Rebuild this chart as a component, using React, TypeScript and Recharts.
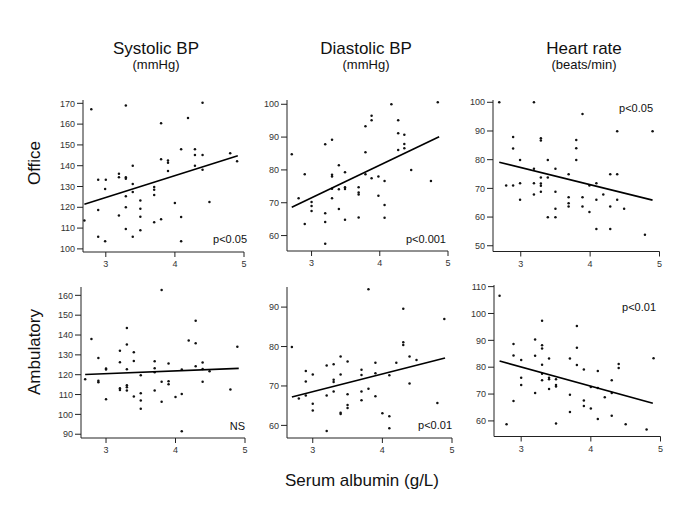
import React from 'react';
import { ScatterChart, Scatter, XAxis, YAxis } from 'recharts';

// ============================================================================
// Data (serum albumin g/L, measured value)
// ============================================================================

const xTicks = [3, 4, 5];

const officeSystolic: [number, number][] = [
  [2.79, 167.1], [3.29, 169.0], [4.4, 170.3], [4.19, 163.0], [3.8, 160.4],
  [2.69, 113.6], [2.89, 133.2], [3.0, 133.2], [2.99, 128.8], [2.89, 118.7],
  [2.89, 105.8], [2.99, 103.7], [3.19, 136.1], [3.19, 134.4], [3.29, 134.5],
  [3.29, 133.7], [3.39, 140.0], [3.39, 131.2], [3.39, 127.3], [3.29, 125.3],
  [3.29, 120.0], [3.19, 116.1], [3.29, 109.6], [3.39, 105.8], [3.5, 123.3],
  [3.5, 119.3], [3.5, 115.5], [3.5, 108.9], [3.7, 129.7], [3.7, 128.4],
  [3.7, 125.9], [3.7, 112.8], [3.8, 143.1], [3.8, 114.3], [3.9, 142.5],
  [3.9, 141.4], [3.9, 137.4], [4.0, 122.1], [4.09, 147.9], [4.09, 115.3],
  [4.09, 103.7], [4.29, 147.9], [4.29, 145.2], [4.29, 140.0], [4.4, 145.2],
  [4.4, 138.0], [4.5, 122.5], [4.8, 146.0], [4.9, 142.2]
];

const officeDiastolic: [number, number][] = [
  [2.71, 84.8], [2.81, 71.4], [2.9, 78.7], [2.9, 63.5], [3.0, 70.2],
  [3.0, 69.0], [3.0, 67.5], [3.2, 87.8], [3.3, 89.2], [3.2, 66.8],
  [3.2, 64.1], [3.2, 57.5], [3.3, 78.5], [3.3, 78.0], [3.3, 74.3],
  [3.3, 71.4], [3.4, 81.4], [3.4, 74.1], [3.4, 68.1], [3.49, 79.3],
  [3.49, 74.7], [3.49, 74.2], [3.49, 64.8], [3.69, 74.7], [3.69, 73.1],
  [3.69, 72.5], [3.69, 65.5], [3.79, 93.3], [3.79, 85.4], [3.79, 78.7],
  [3.88, 96.5], [3.88, 95.1], [3.88, 77.5], [3.98, 78.0], [3.98, 72.1],
  [4.07, 76.6], [4.07, 69.3], [4.07, 65.4], [4.17, 100.0], [4.27, 95.1],
  [4.27, 91.2], [4.27, 86.1], [4.36, 90.7], [4.36, 87.9], [4.36, 86.6],
  [4.46, 80.0], [4.75, 76.6], [4.85, 100.6]
];

const officeHeartRate: [number, number][] = [
  [2.69, 100.0], [2.79, 71.0], [2.89, 87.9], [2.89, 83.9], [2.89, 71.0],
  [2.99, 79.9], [2.99, 71.8], [2.99, 66.0], [3.19, 100.0], [3.19, 76.8],
  [3.19, 71.8], [3.19, 67.9], [3.29, 87.5], [3.29, 86.7], [3.29, 73.8],
  [3.29, 71.7], [3.29, 70.9], [3.29, 68.8], [3.39, 79.9], [3.39, 73.8],
  [3.39, 59.9], [3.5, 76.8], [3.5, 68.8], [3.5, 62.9], [3.5, 59.9],
  [3.69, 74.9], [3.69, 66.9], [3.69, 64.8], [3.69, 63.7], [3.8, 86.9],
  [3.8, 84.0], [3.8, 79.9], [3.89, 95.9], [3.89, 66.9], [3.89, 63.7],
  [3.99, 71.0], [3.99, 61.8], [4.09, 71.8], [4.09, 66.0], [4.09, 55.8],
  [4.19, 67.9], [4.29, 74.9], [4.29, 63.7], [4.29, 55.8], [4.39, 89.9],
  [4.39, 74.9], [4.39, 66.0], [4.49, 62.9], [4.79, 53.8], [4.9, 89.9]
];

const ambSystolic: [number, number][] = [
  [2.7, 117.7], [2.79, 138.0], [2.89, 128.4], [2.89, 117.0], [2.89, 116.2],
  [3.0, 123.1], [3.0, 122.6], [3.0, 107.6], [3.2, 132.1], [3.2, 126.3],
  [3.2, 113.2], [3.2, 112.3], [3.3, 143.5], [3.3, 135.2], [3.3, 122.7],
  [3.3, 114.7], [3.3, 113.7], [3.3, 112.0], [3.4, 131.3], [3.4, 126.9],
  [3.4, 109.0], [3.5, 119.7], [3.5, 110.6], [3.5, 107.0], [3.5, 102.8],
  [3.7, 126.8], [3.7, 123.2], [3.7, 121.2], [3.7, 112.0], [3.8, 162.7],
  [3.8, 116.4], [3.8, 106.4], [3.9, 125.6], [3.9, 116.7], [3.9, 115.2],
  [4.0, 108.8], [4.09, 122.6], [4.09, 110.3], [4.09, 91.5], [4.19, 137.2],
  [4.29, 147.2], [4.29, 135.8], [4.29, 124.2], [4.39, 126.1], [4.39, 122.9],
  [4.39, 116.5], [4.49, 121.7], [4.79, 112.5], [4.89, 134.1]
];

const ambDiastolic: [number, number][] = [
  [2.7, 79.9], [2.8, 66.8], [2.9, 73.8], [2.9, 71.1], [2.9, 67.6],
  [3.0, 72.9], [3.0, 65.5], [3.0, 63.8], [3.2, 75.2], [3.2, 67.6],
  [3.2, 58.6], [3.3, 75.5], [3.3, 71.6], [3.3, 71.0], [3.3, 68.6],
  [3.4, 77.5], [3.4, 72.9], [3.4, 63.2], [3.4, 62.9], [3.5, 76.2],
  [3.5, 67.9], [3.5, 65.2], [3.5, 64.4], [3.7, 74.1], [3.7, 72.8],
  [3.7, 68.6], [3.7, 66.4], [3.8, 94.5], [3.8, 69.3], [3.9, 75.9],
  [3.9, 73.2], [3.9, 67.4], [4.0, 63.1], [4.1, 72.7], [4.1, 62.3],
  [4.1, 59.3], [4.2, 75.9], [4.3, 89.6], [4.3, 81.1], [4.3, 80.4],
  [4.39, 77.5], [4.39, 70.6], [4.49, 76.6], [4.79, 65.7], [4.89, 87.0]
];

const ambHeartRate: [number, number][] = [
  [2.69, 106.6], [2.79, 58.8], [2.89, 88.6], [2.89, 84.4], [2.89, 67.4],
  [3.0, 82.7], [3.0, 76.1], [3.0, 73.4], [3.2, 90.3], [3.2, 84.3],
  [3.2, 70.4], [3.3, 97.3], [3.3, 88.2], [3.3, 87.0], [3.3, 80.9],
  [3.3, 77.6], [3.3, 75.1], [3.4, 83.2], [3.4, 76.1], [3.4, 75.5],
  [3.4, 71.9], [3.5, 75.5], [3.5, 73.4], [3.5, 72.8], [3.5, 59.0],
  [3.7, 83.2], [3.7, 69.7], [3.7, 63.3], [3.8, 95.3], [3.8, 87.2],
  [3.8, 80.8], [3.9, 79.1], [3.9, 67.6], [3.9, 65.6], [4.0, 72.6],
  [4.0, 64.6], [4.1, 78.6], [4.1, 72.3], [4.1, 60.7], [4.2, 68.8],
  [4.3, 75.1], [4.3, 70.4], [4.3, 61.9], [4.4, 81.2], [4.4, 79.7],
  [4.5, 58.8], [4.8, 56.8], [4.9, 83.3]
];

// regression lines (end points)
const officeSystolicFit: [number, number][] = [[2.69, 121.5], [4.91, 144.8]];
const officeDiastolicFit: [number, number][] = [[2.71, 68.6], [4.87, 90.1]];
const officeHeartRateFit: [number, number][] = [[2.69, 79.1], [4.9, 65.9]];
const ambSystolicFit: [number, number][] = [[2.7, 120.1], [4.91, 123.2]];
const ambDiastolicFit: [number, number][] = [[2.7, 67.2], [4.9, 77.1]];
const ambHeartRateFit: [number, number][] = [[2.69, 82.3], [4.89, 66.6]];

const officeSystolicTicks = [100, 110, 120, 130, 140, 150, 160, 170];
const officeDiastolicTicks = [60, 70, 80, 90, 100];
const officeHeartRateTicks = [50, 60, 70, 80, 90, 100];
const ambSystolicTicks = [90, 100, 110, 120, 130, 140, 150, 160];
const ambDiastolicTicks = [60, 70, 80, 90];
const ambHeartRateTicks = [60, 70, 80, 90, 100, 110];

const columnTitles = ['Systolic BP', 'Diastolic BP', 'Heart rate'];
const columnUnits = ['(mmHg)', '(mmHg)', '(beats/min)'];
const rowTitles = ['Office', 'Ambulatory'];
const notes = ['p<0.05', 'p<0.001', 'p<0.05', 'NS', 'p<0.01', 'p<0.01'];
const xTitle = 'Serum albumin (g/L)';

// ============================================================================
// Layout
// ============================================================================

const FONT = '"Liberation Sans", Arial, Helvetica, sans-serif';

const panels = [
  { pts: officeSystolic, fit: officeSystolicFit, ticks: officeSystolicTicks, l: 83, t: 100, r: 244, b: 252, xd: [2.67, 5], yd: [98.5, 171.6], nx: 247, ny: 243 },
  { pts: officeDiastolic, fit: officeDiastolicFit, ticks: officeDiastolicTicks, l: 287, t: 100, r: 448, b: 251, xd: [2.64, 5], yd: [55.3, 101.3], nx: 446, ny: 243 },
  { pts: officeHeartRate, fit: officeHeartRateFit, ticks: officeHeartRateTicks, l: 493, t: 100, r: 659.5, b: 251.5, xd: [2.6, 5], yd: [48, 100.8], nx: 653, ny: 112 },
  { pts: ambSystolic, fit: ambSystolicFit, ticks: ambSystolicTicks, l: 81, t: 286.5, r: 245, b: 437.5, xd: [2.64, 5], yd: [88.1, 164.2], nx: 245, ny: 430 },
  { pts: ambDiastolic, fit: ambDiastolicFit, ticks: ambDiastolicTicks, l: 287, t: 286.5, r: 452, b: 437.5, xd: [2.63, 5], yd: [56.8, 95.1], nx: 452, ny: 429 },
  { pts: ambHeartRate, fit: ambHeartRateFit, ticks: ambHeartRateTicks, l: 493.5, t: 285, r: 660, b: 436.5, xd: [2.61, 5], yd: [54.2, 110.6], nx: 656, ny: 311 }
];

const titleX = [156, 366, 584];
const rowY = [163, 352];

const Dot = (props: any) => (
  <circle cx={props.cx} cy={props.cy} r={1.25} fill="#111" />
);
const NoShape = () => <g />;

const Y_AXIS_W = 40;
const M_TOP = 4;
const M_RIGHT = 8;
const X_AXIS_H = 26;

function Panel({ p, note }: { p: any; note: string }) {
  const w = p.r - p.l + Y_AXIS_W + M_RIGHT;
  const h = p.b - p.t + M_TOP + X_AXIS_H;
  const pts = p.pts.map(([x, y]: [number, number]) => ({ x, y }));
  const fit = p.fit.map(([x, y]: [number, number]) => ({ x, y }));
  return (
    <>
      <div style={{ position: 'absolute', left: p.l - Y_AXIS_W, top: p.t - M_TOP }}>
        <ScatterChart
          width={w}
          height={h}
          margin={{ top: M_TOP, right: M_RIGHT, left: 0, bottom: 0 }}
        >
          <XAxis
            type="number"
            dataKey="x"
            domain={p.xd}
            ticks={xTicks}
            allowDataOverflow
            height={X_AXIS_H}
            tickSize={5}
            tickMargin={4}
            stroke="#222"
            tick={{ fontSize: 9, fill: '#333', fontFamily: FONT }}
          />
          <YAxis
            type="number"
            dataKey="y"
            domain={p.yd}
            ticks={p.ticks}
            allowDataOverflow
            width={Y_AXIS_W}
            tickSize={6}
            tickMargin={2}
            stroke="#222"
            tick={{ fontSize: 9, fill: '#333', fontFamily: FONT }}
          />
          <Scatter data={pts} shape={Dot} isAnimationActive={false} />
          <Scatter
            data={fit}
            shape={NoShape}
            line={{ stroke: '#000', strokeWidth: 1.6 }}
            isAnimationActive={false}
          />
        </ScatterChart>
      </div>
      <div
        style={{
          position: 'absolute',
          left: p.nx - 100,
          top: p.ny - 9.3,
          width: 100,
          textAlign: 'right',
          fontSize: 11,
          lineHeight: 1,
          color: '#111'
        }}
      >
        {note}
      </div>
    </>
  );
}

export default function App() {
  return (
    <div
      style={{
        position: 'absolute',
        left: 0,
        top: 0,
        width: 685,
        height: 513,
        background: '#fff',
        fontFamily: FONT,
        color: '#111',
        overflow: 'hidden'
      }}
    >
      {columnTitles.map((t, i) => (
        <React.Fragment key={t}>
          <div style={{ position: 'absolute', left: titleX[i] - 100, top: 39.6, width: 200, textAlign: 'center', fontSize: 17, lineHeight: 1 }}>
            {t}
          </div>
          <div style={{ position: 'absolute', left: titleX[i] - 100, top: 58, width: 200, textAlign: 'center', fontSize: 13, lineHeight: 1 }}>
            {columnUnits[i]}
          </div>
        </React.Fragment>
      ))}
      {rowTitles.map((t, i) => (
        <div
          key={t}
          style={{
            position: 'absolute',
            left: 35 - 100,
            top: rowY[i] - 10,
            width: 200,
            height: 20,
            lineHeight: '20px',
            textAlign: 'center',
            fontSize: 17,
            transform: 'rotate(-90deg)'
          }}
        >
          {t}
        </div>
      ))}
      {panels.map((p, i) => (
        <Panel key={i} p={p} note={notes[i]} />
      ))}
      <div style={{ position: 'absolute', left: 362 - 150, top: 471.6, width: 300, textAlign: 'center', fontSize: 17, lineHeight: 1 }}>
        {xTitle}
      </div>
    </div>
  );
}
